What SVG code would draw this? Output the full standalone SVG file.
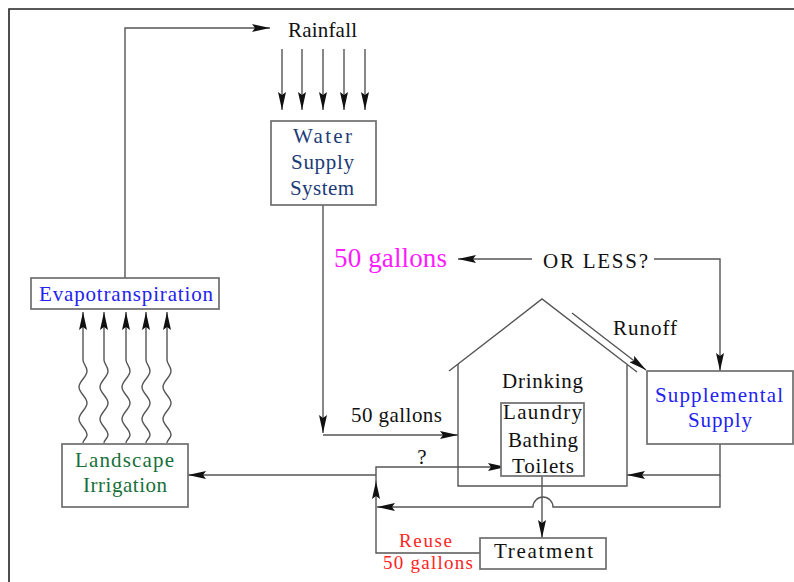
<svg xmlns="http://www.w3.org/2000/svg" width="794" height="582" viewBox="0 0 794 582" font-family="Liberation Serif, Times New Roman, serif">
<style>
  text { font-size: 21px; text-anchor: middle; fill: #111; }
  .box { fill: #fff; stroke: #6e6e6e; stroke-width: 1.7; }
  .ln { fill: none; stroke: #555; stroke-width: 1.4; }
  .arr { marker-end: url(#ah); }
  .navy { fill: #1c3b78; }
  .blue { fill: #2323f0; }
  .green { fill: #17703a; }
  .mag { fill: #ff1aff; font-size: 27px; }
  .red { fill: #ff2424; font-size: 19px; }
</style>
<defs>
  <marker id="ah" markerUnits="userSpaceOnUse" viewBox="0 0 18 8" refX="18" refY="4" markerWidth="18" markerHeight="8" orient="auto">
    <path d="M0,0 L18,4 L0,8 L3,4 z" fill="#111"/>
  </marker>
</defs>
<rect width="794" height="582" fill="#fff"/>
<g id="frame">
  <path d="M9,582 V9 H794" fill="none" stroke="#222" stroke-width="1.6"/>
</g>

<g id="connectors">
  <path class="ln arr" d="M125,278 V28 H270"/>
  <path class="ln arr" d="M282,49 V110"/>
  <path class="ln arr" d="M302,49 V110"/>
  <path class="ln arr" d="M323,49 V110"/>
  <path class="ln arr" d="M344,49 V110"/>
  <path class="ln arr" d="M365,49 V110"/>
  <path class="ln arr" d="M323,205 V433"/>
  <path class="ln arr" d="M323,435 H458"/>
  <path class="ln arr" d="M532,259 H458"/>
  <path class="ln arr" d="M654,259 H720 V371"/>
  <path class="ln arr" d="M572,313 L646,370"/>
  <path class="ln arr" d="M720,444 V475 H627"/>
  <path class="ln arr" d="M720,475 V507 H553 A10,10 0 0 0 533,507 H377"/>
  <path class="ln arr" d="M542,476 V538"/>
  <path class="ln arr" d="M480,553 H376 V481"/>
  <path class="ln arr" d="M376,482 V467 H506"/>
  <path class="ln arr" d="M376,475 H188"/>
  <path class="ln arr" d="M83,443 C83,440 87,438 87,435 C87,429 79,425 79,419 C79,413 87,409 87,403 C87,397 79,393 79,387 C79,381 87,377 87,371 C87,366 83,364 83,360 L83,312"/>
  <path class="ln arr" d="M104,443 C104,440 108,438 108,435 C108,429 100,425 100,419 C100,413 108,409 108,403 C108,397 100,393 100,387 C100,381 108,377 108,371 C108,366 104,364 104,360 L104,312"/>
  <path class="ln arr" d="M126,443 C126,440 130,438 130,435 C130,429 122,425 122,419 C122,413 130,409 130,403 C130,397 122,393 122,387 C122,381 130,377 130,371 C130,366 126,364 126,360 L126,312"/>
  <path class="ln arr" d="M146,443 C146,440 150,438 150,435 C150,429 142,425 142,419 C142,413 150,409 150,403 C150,397 142,393 142,387 C142,381 150,377 150,371 C150,366 146,364 146,360 L146,312"/>
  <path class="ln arr" d="M167,443 C167,440 171,438 171,435 C171,429 163,425 163,419 C163,413 171,409 171,403 C171,397 163,393 163,387 C163,381 171,377 171,371 C171,366 167,364 167,360 L167,312"/>
</g>

<g id="labels">
  <text x="322.5" y="37" textLength="69">Rainfall</text>
  <text class="mag" x="390.5" y="267" textLength="113">50 gallons</text>
  <text x="595.5" y="268" textLength="105">OR LESS?</text>
  <text x="645" y="335" textLength="64">Runoff</text>
  <text x="396.5" y="422" textLength="91">50 gallons</text>
  <text x="422" y="464">?</text>
  <text class="red" x="425.5" y="547" textLength="53">Reuse</text>
  <text class="red" x="428" y="569" textLength="90">50 gallons</text>
</g>

<g id="water-supply">
  <rect class="box" x="271" y="121" width="105" height="84"/>
  <text class="navy" x="322.5" y="143" textLength="59">Water</text>
  <text class="navy" x="322.5" y="169" textLength="63">Supply</text>
  <text class="navy" x="322" y="195" textLength="64">System</text>
</g>

<g id="evapotranspiration">
  <rect class="box" x="31" y="278" width="188" height="31"/>
  <text class="blue" x="126" y="301" textLength="174">Evapotranspiration</text>
</g>

<g id="landscape">
  <rect class="box" x="62" y="444" width="126" height="63"/>
  <text class="green" x="124.5" y="467" textLength="99">Landscape</text>
  <text class="green" x="125" y="492" textLength="84">Irrigation</text>
</g>

<g id="house">
  <path class="ln" d="M458,364 V486 H627 V365"/>
  <path class="ln" d="M449,371 L542,299 L637,372"/>
  <text x="542.5" y="388" textLength="81">Drinking</text>
</g>

<g id="uses">
  <rect class="box" x="501" y="403" width="83" height="73"/>
  <text x="542.5" y="419" textLength="79">Laundry</text>
  <text x="543" y="447" textLength="70">Bathing</text>
  <text x="543" y="473" textLength="62">Toilets</text>
</g>

<g id="supplemental">
  <rect class="box" x="647" y="371" width="146" height="73"/>
  <text class="blue" x="719" y="402" textLength="128">Supplemental</text>
  <text class="blue" x="720" y="427" textLength="64">Supply</text>
</g>

<g id="treatment">
  <rect class="box" x="480" y="538" width="126" height="31"/>
  <text x="543.5" y="558" textLength="99">Treatment</text>
</g>
</svg>
